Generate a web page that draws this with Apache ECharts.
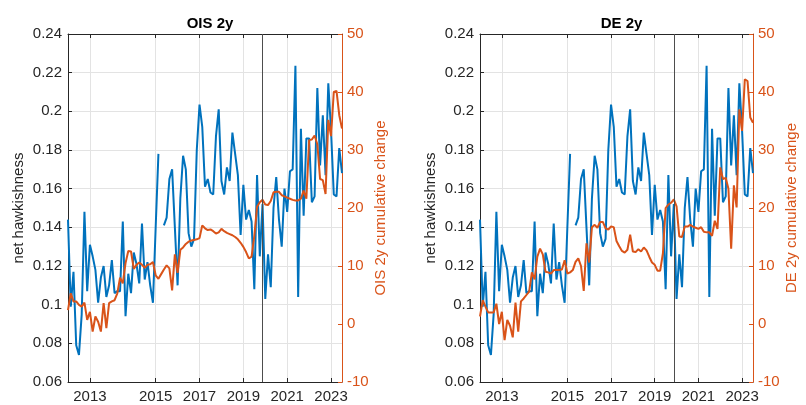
<!DOCTYPE html>
<html>
<head>
<meta charset="utf-8">
<script src="https://cdn.jsdelivr.net/npm/echarts@6/dist/echarts.min.js"></script>
<style>
html,body{margin:0;padding:0;background:#fff;}
#chart{width:806px;height:405px;}
</style>
</head>
<body>
<div id="chart"></div>
<script>
// ---- data (meeting index on x axis) ----
const meetingCount = 101;
const meetings = [];
for (let i = 0; i < meetingCount; i++) meetings.push(String(i));

const tickPos = [8, 32, 48, 64, 80, 96];
const tickLabels = ['2013', '2015', '2017', '2019', '2021', '2023'];
const covidIdx = '71';

const netHawk = [
 0.144,0.099,0.117,0.079,0.074,0.095,0.148,0.107,0.131,0.125,
 0.118,0.101,0.114,0.120,0.104,0.110,0.123,0.106,0.107,0.107,
 0.143,0.094,0.116,0.106,0.127,0.121,0.111,0.142,0.113,0.122,
 0.110,0.101,0.140,0.178,null,0.141,0.145,0.165,0.170,0.140,
 0.110,0.155,0.177,0.170,0.137,0.130,0.134,0.180,0.2035,0.192,
 0.161,0.165,0.158,0.157,0.187,0.201,0.164,0.157,0.171,0.164,
 0.189,0.178,0.167,0.136,0.162,0.144,0.149,0.143,0.108,0.167,
 0.125,0.152,0.103,0.126,0.109,0.150,0.166,0.144,0.130,0.160,
 0.148,0.169,0.170,0.2236,0.104,0.191,0.146,0.186,0.186,0.153,
 0.156,0.212,0.172,0.198,0.167,0.2145,0.190,0.157,0.156,0.181,
 0.168
];

const oisChange = [
 2.4,5.3,3.9,3.9,3.3,3.0,3.7,0.7,2.1,-1.3,
 1.3,0.4,-1.3,3.6,-0.7,3.6,3.9,4.1,5.3,8.0,
 7.0,10.5,12.6,12.5,9.5,10.2,10.6,10.2,9.7,10.2,
 10.3,10.7,8.4,7.8,8.6,9.4,10.1,9.6,5.8,12.0,
 8.8,12.8,13.2,13.8,14.2,14.4,14.5,14.6,14.8,17.0,
 16.5,16.2,16.3,16.0,15.6,15.8,16.4,16.0,15.7,15.5,
 15.3,15.0,14.6,14.0,13.3,12.4,11.3,11.6,15.2,20.2,
 21.0,21.4,20.6,20.5,21.2,22.7,22.8,22.8,22.2,22.0,
 21.8,21.6,21.4,21.3,21.3,21.6,23.0,21.6,31.7,31.8,
 32.5,31.0,25.0,24.8,22.4,35.2,32.4,40.0,40.2,36.0,
 33.7
];

const deChange = [
 1.3,4.1,3.0,2.0,2.0,2.0,3.5,0.0,2.1,-2.8,
 0.7,-0.3,-2.3,3.7,-1.3,3.9,4.4,5.0,5.6,8.9,
 7.7,11.6,13.0,12.0,9.0,8.9,8.7,9.3,9.3,9.3,
 9.4,11.0,8.7,8.9,9.3,10.7,11.3,10.0,5.7,13.9,
 10.6,16.7,17.1,16.6,17.6,17.6,16.5,16.3,16.8,16.7,
 14.3,13.4,12.6,12.3,12.8,15.4,12.5,12.4,12.9,12.5,
 13.2,12.7,11.6,10.6,10.2,9.2,9.2,12.2,20.0,20.6,
 20.9,21.5,20.3,15.1,15.0,16.8,16.8,17.1,16.8,16.6,
 16.4,16.7,15.9,15.8,15.8,15.2,17.8,16.4,27.0,25.0,
 25.2,23.3,13.0,23.9,20.1,37.0,33.3,42.2,41.9,35.6,
 34.7
];

const panelTitles = ['OIS 2y', 'DE 2y'];
const rightNames = ['OIS 2y cumulative change', 'DE 2y cumulative change'];
const leftName = 'net hawkishness';

// ---- styling ----
const FONT = 'Liberation Sans, Arial, Helvetica, sans-serif';
const BLUE = '#0072BD';
const ORANGE = '#D95319';
const AX = '#262626';
const GRID = '#e3e3e3';
const FS = 15;

const showTick = (idx) => tickPos.indexOf(idx) >= 0;
const labelFor = (v) => { const k = tickPos.indexOf(Number(v)); return k >= 0 ? tickLabels[k] : ''; };
const fmtLeft = (v) => String(+v.toFixed(2));

const grids = [
  { left: 68, top: 34, width: 274, height: 348 },
  { left: 480, top: 34, width: 273, height: 348 }
];

const xAxes = [], yAxes = [], series = [], titles = [];
[0, 1].forEach((g) => {
  xAxes.push({
    type: 'category', gridIndex: g, data: meetings, boundaryGap: false, position: 'bottom',
    axisLine: { show: true, onZero: false, lineStyle: { color: AX, width: 1 } },
    axisTick: { show: true, inside: true, length: 4, interval: (i) => showTick(i), lineStyle: { color: AX } },
    axisLabel: { show: true, interval: (i) => showTick(i), formatter: labelFor, color: AX, fontSize: FS, fontFamily: FONT, margin: 7 },
    splitLine: { show: true, interval: (i) => showTick(i), lineStyle: { color: GRID, width: 1 } }
  });
  xAxes.push({
    type: 'category', gridIndex: g, data: meetings, boundaryGap: false, position: 'top',
    axisLine: { show: true, onZero: false, lineStyle: { color: AX, width: 1 } },
    axisTick: { show: true, inside: true, length: 4, interval: (i) => showTick(i), lineStyle: { color: AX } },
    axisLabel: { show: false },
    splitLine: { show: false }
  });
  yAxes.push({
    type: 'value', gridIndex: g, position: 'left', min: 0.06, max: 0.24, interval: 0.02,
    axisLine: { show: true, lineStyle: { color: AX, width: 1 } },
    axisTick: { show: true, inside: true, length: 4, lineStyle: { color: AX } },
    axisLabel: { color: AX, fontSize: FS, fontFamily: FONT, margin: 6, formatter: fmtLeft },
    splitLine: { show: true, lineStyle: { color: GRID, width: 1 } },
    name: leftName, nameLocation: 'middle', nameGap: 42, nameRotate: 90,
    nameTextStyle: { color: AX, fontSize: FS, fontFamily: FONT }
  });
  yAxes.push({
    type: 'value', gridIndex: g, position: 'right', min: -10, max: 50, interval: 10,
    axisLine: { show: true, lineStyle: { color: ORANGE, width: 1 } },
    axisTick: { show: true, inside: true, length: 4, lineStyle: { color: ORANGE } },
    axisLabel: { color: ORANGE, fontSize: FS, fontFamily: FONT, margin: 5 },
    splitLine: { show: false },
    name: rightNames[g], nameLocation: 'middle', nameGap: 31, nameRotate: 90,
    nameTextStyle: { color: ORANGE, fontSize: FS, fontFamily: FONT }
  });
  titles.push({
    text: panelTitles[g], left: grids[g].left + grids[g].width / 2, top: 11, textAlign: 'center',
    textStyle: { fontSize: 15, fontWeight: 'bold', color: '#000', fontFamily: FONT }
  });
  series.push({
    type: 'line', xAxisIndex: g * 2, yAxisIndex: g * 2, data: netHawk,
    symbol: 'none', connectNulls: false, z: 2,
    lineStyle: { color: BLUE, width: 2 }, itemStyle: { color: BLUE },
    markLine: {
      silent: true, symbol: 'none', label: { show: false }, animation: false,
      lineStyle: { color: '#4d4d4d', width: 1, type: 'solid' },
      data: [{ xAxis: covidIdx }]
    }
  });
  series.push({
    type: 'line', xAxisIndex: g * 2, yAxisIndex: g * 2 + 1, data: g === 0 ? oisChange : deChange,
    symbol: 'none', z: 3,
    lineStyle: { color: ORANGE, width: 2 }, itemStyle: { color: ORANGE }
  });
});

const chart = echarts.init(document.getElementById('chart'), null, { renderer: 'canvas' });
chart.setOption({
  animation: false,
  backgroundColor: '#fff',
  textStyle: { fontFamily: FONT },
  title: titles,
  grid: grids,
  xAxis: xAxes,
  yAxis: yAxes,
  series: series
});
</script>
</body>
</html>
